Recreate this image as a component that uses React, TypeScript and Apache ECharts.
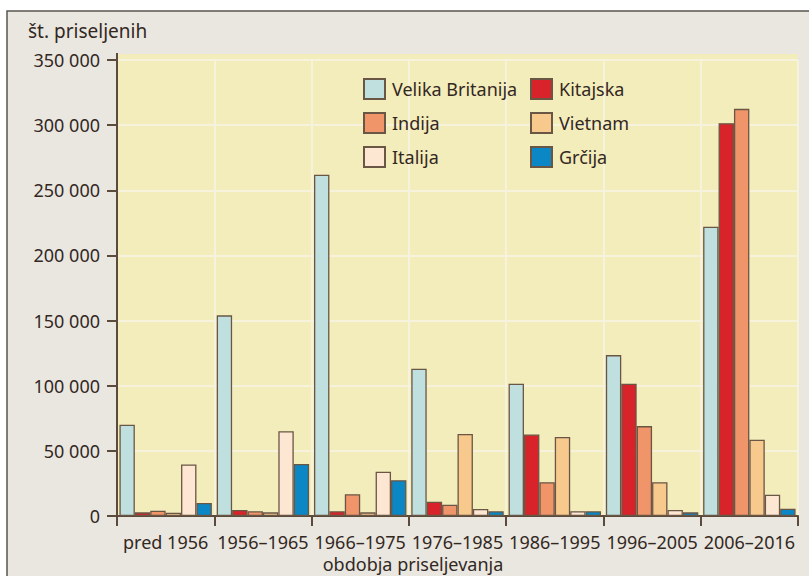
import React, { useEffect, useRef } from "react";
import * as echarts from "echarts";

const categories = ["pred 1956", "1956–1965", "1966–1975", "1976–1985", "1986–1995", "1996–2005", "2006–2016"];
const velikaBritanija = [70000, 154000, 262000, 113000, 101500, 123500, 222000];
const kitajska = [2800, 4600, 3600, 11000, 62500, 101500, 301500];
const indija = [4000, 3600, 16700, 8700, 26000, 69000, 312500];
const vietnam = [2500, 2800, 2800, 63000, 60700, 26000, 58500];
const italija = [39500, 65000, 34000, 5400, 3600, 4600, 16400];
const grcija = [10000, 40000, 27500, 3600, 3600, 2800, 5600];

const seriesNames = ["Velika Britanija", "Kitajska", "Indija", "Vietnam", "Italija", "Grčija"];
const seriesData = [velikaBritanija, kitajska, indija, vietnam, italija, grcija];
const seriesColors = ["#bfe0df", "#d9232a", "#f0946a", "#f7c98c", "#fde6d2", "#0a87c4"];

const FONT = "'Noto Sans', sans-serif";
const TEXT = "#33281f";

export default function App() {
  const ref = useRef<HTMLDivElement>(null);
  useEffect(() => {
    if (!ref.current) return;
    const chart = echarts.init(ref.current, undefined, { renderer: "svg" });
    chart.setOption({
      animation: false,
      backgroundColor: "#ffffff",
      textStyle: { fontFamily: FONT, color: TEXT },
      graphic: [
        { type: "rect", z: -20, silent: true, shape: { x: 7, y: 11, width: 830, height: 600 }, style: { fill: "#e9e7df", stroke: "#5a5550", lineWidth: 1.5 } },
        { type: "rect", z: -10, silent: true, shape: { x: 117, y: 54, width: 681, height: 7 }, style: { fill: "#f3ecbb" } },
        { type: "line", z: 10, silent: true, shape: { x1: 117, y1: 53, x2: 117, y2: 61 }, style: { stroke: "#5b4b3d", lineWidth: 2 } },
        { type: "text", x: 28, y: 31, style: { text: "št. priseljenih", font: `19px ${FONT}`, fill: TEXT, verticalAlign: "middle" } },
        { type: "text", x: 413, y: 564, style: { text: "obdobja priseljevanja", font: `18px ${FONT}`, fill: TEXT, align: "center", verticalAlign: "middle" } },
      ],
      legend: [
        {
          data: ["Velika Britanija", "Indija", "Italija"],
          orient: "vertical", left: 358, top: 73, itemWidth: 21, itemHeight: 20, itemGap: 12, icon: "rect",
          textStyle: { fontFamily: FONT, fontSize: 18, color: TEXT, padding: [0, 0, 0, 2] },
        },
        {
          data: ["Kitajska", "Vietnam", "Grčija"],
          orient: "vertical", left: 525, top: 73, itemWidth: 21, itemHeight: 20, itemGap: 12, icon: "rect",
          textStyle: { fontFamily: FONT, fontSize: 18, color: TEXT, padding: [0, 0, 0, 2] },
        },
      ],
      grid: { left: 117, right: 11, top: 60, bottom: 60, show: true, backgroundColor: "#f3ecbb", borderWidth: 0 },
      xAxis: {
        type: "category",
        data: categories,
        boundaryGap: true,
        axisLine: { lineStyle: { color: "#5b4b3d", width: 2 } },
        axisTick: { show: true, length: 10, lineStyle: { color: "#5b4b3d", width: 2 } },
        axisLabel: { fontFamily: FONT, fontSize: 18, color: TEXT, margin: 17, interval: 0 },
        splitLine: { show: true, lineStyle: { color: "#f7f2dc", width: 2 } },
      },
      yAxis: {
        type: "value",
        min: 0, max: 350000, interval: 50000,
        axisLine: { show: true, lineStyle: { color: "#5b4b3d", width: 2 } },
        axisTick: { show: true, length: 10, lineStyle: { color: "#5b4b3d", width: 2 } },
        axisLabel: {
          fontFamily: FONT, fontSize: 18, color: TEXT, margin: 17,
          formatter: (v: number) => v.toLocaleString("en-US").replace(/,/g, " "),
        },
        splitLine: { show: true, lineStyle: { color: "#f7f2dc", width: 2 } },
      },
      series: seriesNames.map((name, i) => ({
        name,
        type: "bar",
        data: seriesData[i],
        barGap: "0%",
        barCategoryGap: "5%",
        itemStyle: { color: seriesColors[i], borderColor: "#6a5645", borderWidth: 1.3 },
      })),
    });
    return () => chart.dispose();
  }, []);
  return <div ref={ref} style={{ position: "fixed", left: 0, top: 0, width: 809, height: 576 }} />;
}
